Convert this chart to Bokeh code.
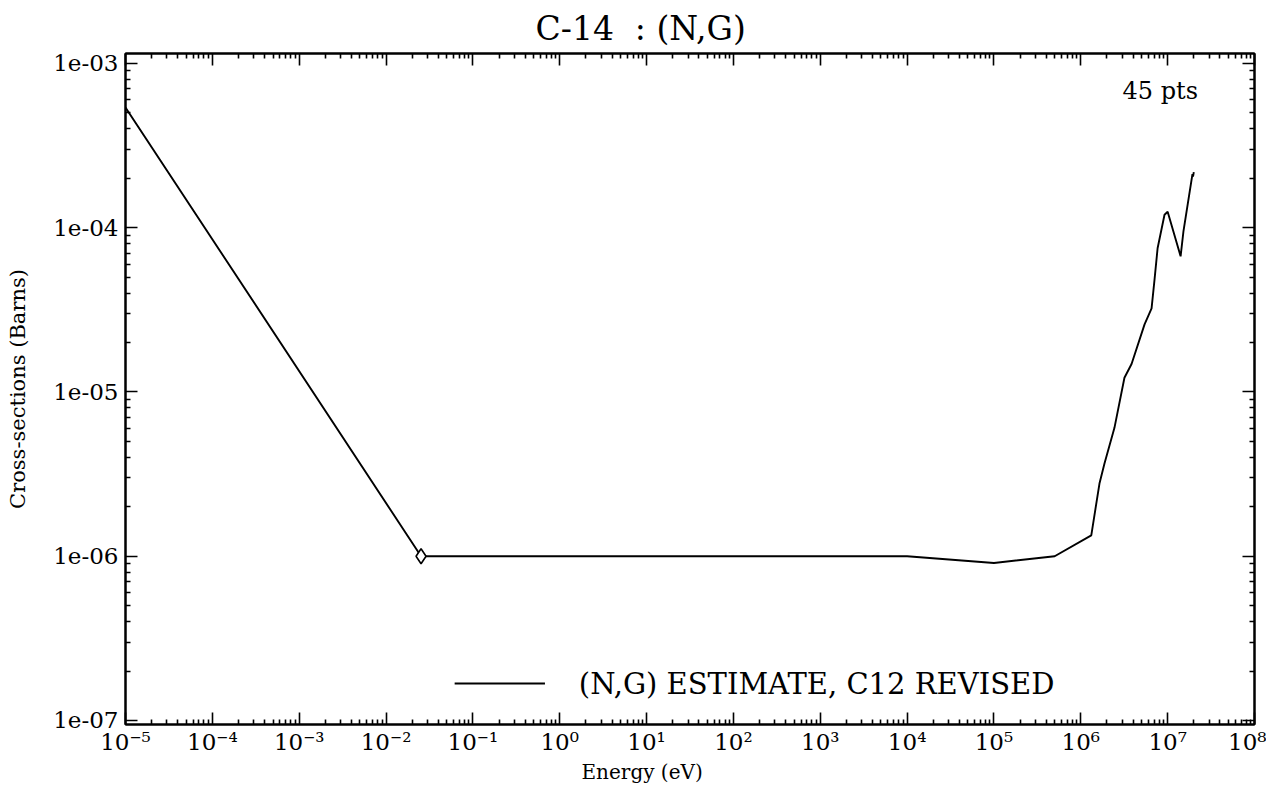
from bokeh.plotting import figure
from bokeh.models import (Range1d, LogAxis, LogScale, FixedTicker, CustomJSTickFormatter,
                          Label, Title)
from bokeh.embed import file_html
from bokeh.resources import INLINE

# ---- data ----
energy = [1e-5, 0.0253, 1e4, 1e5, 5e5, 1.32e6, 1.64e6, 1.87e6, 2.44e6, 3.18e6, 3.84e6,
          5.42e6, 6.53e6, 7.08e6, 7.66e6, 9.2e6, 1.0e7, 1.41e7, 1.52e7, 1.93e7, 1.96e7, 2.0e7]
xsec = [5.4e-4, 1e-6, 1e-6, 9.1e-7, 1e-6, 1.34e-6, 2.77e-6, 3.66e-6, 6.05e-6, 1.22e-5, 1.48e-5,
        2.58e-5, 3.23e-5, 4.9e-5, 7.5e-5, 1.2e-4, 1.25e-4, 6.7e-5, 9.5e-5, 2.12e-4, 2.05e-4, 2.18e-4]
marker_e = [0.0253]
marker_x = [1e-6]

x_major = [1e-5, 1e-4, 1e-3, 1e-2, 1e-1, 1e0, 1e1, 1e2, 1e3, 1e4, 1e5, 1e6, 1e7, 1e8]
y_major = [1e-7, 1e-6, 1e-5, 1e-4, 1e-3]
x_minor = [m * d for d in x_major[:-1] for m in range(2, 10)]
y_minor = [m * d for d in [1e-8] + y_major for m in range(2, 10)]

title_text = "C-14\u00a0 : (N,G)"
legend_text = "(N,G) ESTIMATE, C12 REVISED"
count_text = "45 pts"
x_label = "Energy (eV)"
y_label = "Cross-sections (Barns)"

SERIF = "DejaVu Serif"

p = figure(width=1266, height=783, x_axis_type=None, y_axis_type=None,
           x_range=Range1d(1e-5, 1e8), y_range=Range1d(0.945e-7, 1.15e-3),
           output_backend="svg", toolbar_location=None,
           min_border_left=125, min_border_right=12, min_border_top=52, min_border_bottom=59)
p.x_scale = LogScale()
p.y_scale = LogScale()
p.grid.visible = False
p.outline_line_color = "black"
p.outline_line_width = 2
p.background_fill_color = "white"
p.border_fill_color = "white"

xfmt = CustomJSTickFormatter(code="""
const sup = {'-':'\u207b','0':'\u2070','1':'\u00b9','2':'\u00b2','3':'\u00b3','4':'\u2074',
             '5':'\u2075','6':'\u2076','7':'\u2077','8':'\u2078','9':'\u2079'};
const e = Math.round(Math.log10(tick));
return '10' + String(e).split('').map(c => sup[c]).join('');
""")
yfmt = CustomJSTickFormatter(code="""
const e = Math.round(Math.log10(tick));
return '1e' + (e < 0 ? '-' : '+') + String(Math.abs(e)).padStart(2, '0');
""")
blank = CustomJSTickFormatter(code="return '';")

def style(ax, labels=True):
    ax.axis_line_color = "black"
    ax.axis_line_width = 2
    ax.major_tick_in = 12
    ax.major_tick_out = 0
    ax.minor_tick_in = 5
    ax.minor_tick_out = 0
    ax.major_tick_line_width = 1.6
    ax.minor_tick_line_width = 1.6
    ax.major_tick_line_color = "black"
    ax.minor_tick_line_color = "black"
    if labels:
        ax.major_label_text_font = SERIF
        ax.major_label_text_font_size = "23px"
        ax.major_label_text_color = "black"
        ax.axis_label_text_font = SERIF
        ax.axis_label_text_font_size = "21px"
        ax.axis_label_text_font_style = "normal"
        ax.axis_label_text_color = "black"
    else:
        ax.major_label_standoff = 0

bottom = LogAxis(ticker=FixedTicker(ticks=x_major, minor_ticks=x_minor), formatter=xfmt)
style(bottom)
bottom.major_label_standoff = 4
left = LogAxis(ticker=FixedTicker(ticks=y_major, minor_ticks=y_minor),
               formatter=yfmt, axis_label=y_label)
style(left)
left.major_label_standoff = 7
left.axis_label_standoff = 20
top = LogAxis(ticker=FixedTicker(ticks=x_major, minor_ticks=x_minor), formatter=blank)
style(top, labels=False)
right = LogAxis(ticker=FixedTicker(ticks=y_major, minor_ticks=y_minor), formatter=blank)
style(right, labels=False)

p.add_layout(bottom, "below")
p.add_layout(left, "left")
p.add_layout(top, "above")
p.add_layout(right, "right")

p.add_layout(Title(text=x_label, align="left", offset=456, text_font=SERIF,
                   text_font_size="20px", text_font_style="normal", text_color="black",
                   standoff=0), "below")
p.add_layout(Title(text=title_text, align="left", offset=410, text_font=SERIF,
                   text_font_size="33px", text_font_style="normal", text_color="black",
                   standoff=12), "above")

p.line(energy, xsec, line_color="black", line_width=1.9)
p.scatter(marker_e, marker_x, marker="diamond", size=15, fill_color="white",
          line_color="black", line_width=1.6)

# legend
p.line([10**-1.21, 10**-0.17], [10**-6.775, 10**-6.775], line_color="black", line_width=1.9)
p.add_layout(Label(x=10**0.22, y=10**-6.775, text=legend_text, text_font=SERIF,
                   text_font_size="29px", text_baseline="middle", text_color="black"))
p.add_layout(Label(x=10**6.48, y=10**-3.17, text=count_text, text_font=SERIF,
                   text_font_size="24px", text_baseline="middle", text_color="black"))

open("out.html", "w").write(file_html(p, INLINE))
